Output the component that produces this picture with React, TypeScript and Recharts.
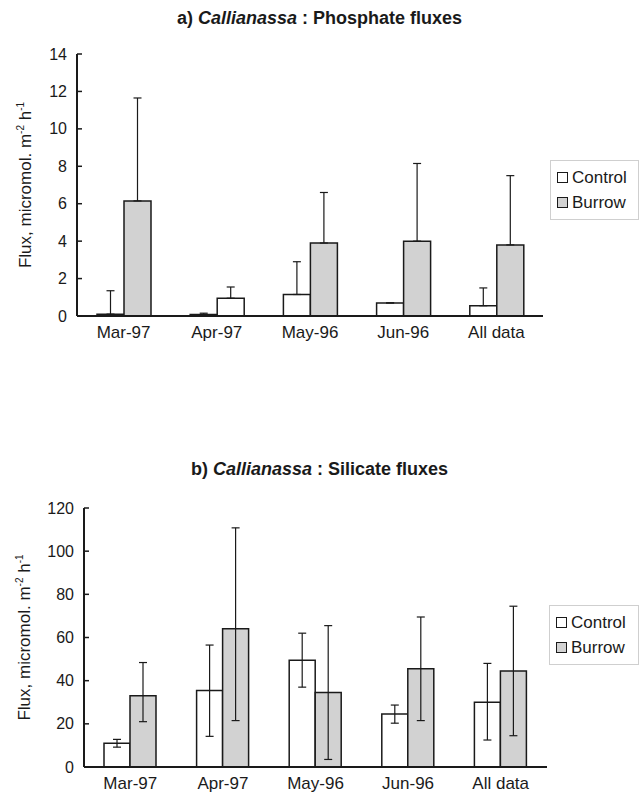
import React from 'react';
import { BarChart, Bar, XAxis, YAxis, ErrorBar, Legend, Cell } from 'recharts';

const months = ['Mar-97', 'Apr-97', 'May-96', 'Jun-96', 'All data'];

// a) phosphate: bar value + upward error only
const phosControl = [0.1, 0.08, 1.15, 0.7, 0.55];
const phosControlUp = [1.25, 0.07, 1.75, 0, 0.95];
const phosBurrow = [6.15, 0.95, 3.9, 4.0, 3.8];
const phosBurrowUp = [5.5, 0.6, 2.7, 4.15, 3.7];
const phosTicks = [0, 2, 4, 6, 8, 10, 12, 14];

// b) silicate: bar value + lower/upper error
const siControl = [11, 35.5, 49.5, 24.5, 30];
const siControlLow = [1.8, 21.3, 12.5, 4.2, 17.5];
const siControlHigh = [1.8, 21, 12.5, 4.2, 18];
const siBurrow = [33, 64, 34.5, 45.5, 44.5];
const siBurrowLow = [12, 42.5, 31, 24, 30];
const siBurrowHigh = [15.4, 46.8, 31, 24, 30];
const siTicks = [0, 20, 40, 60, 80, 100, 120];

const FONT = "Arial, 'Liberation Sans', sans-serif";
const INK = '#1a1a1a';
const GREY = '#d2d2d2';

const phosData = months.map((m, i) => ({
  month: m,
  control: phosControl[i],
  burrow: phosBurrow[i],
  controlErr: [0, phosControlUp[i]],
  burrowErr: [0, phosBurrowUp[i]],
}));

const siData = months.map((m, i) => ({
  month: m,
  control: siControl[i],
  burrow: siBurrow[i],
  controlErr: [siControlLow[i], siControlHigh[i]],
  burrowErr: [siBurrowLow[i], siBurrowHigh[i]],
}));

const YTick = (props: any) => {
  const { x, y, payload } = props;
  return (
    <g>
      <line x1={x + 10} x2={x + 15} y1={y} y2={y} stroke={INK} strokeWidth={1.5} />
      <text x={x} y={y} dy={5.5} textAnchor="end" fontSize={16} fill={INK} fontFamily={FONT}>
        {payload.value}
      </text>
    </g>
  );
};

const YLabel = ({ cx, cy }: { cx: number; cy: number }) => (
  <text
    x={cx}
    y={cy}
    transform={`rotate(-90 ${cx} ${cy})`}
    textAnchor="middle"
    fontSize={17}
    fill={INK}
    fontFamily={FONT}
  >
    Flux, micromol. m
    <tspan dy={-7} fontSize={10}>-2</tspan>
    <tspan dy={7}> h</tspan>
    <tspan dy={-7} fontSize={10}>-1</tspan>
  </text>
);

const LegendBox = () => (
  <div
    style={{
      border: '1px solid #cfcfcf',
      padding: '4px 6px',
      fontFamily: FONT,
      fontSize: 17,
      color: INK,
      lineHeight: '25px',
      boxSizing: 'border-box',
    }}
  >
    {[
      { name: 'Control', fill: '#fff' },
      { name: 'Burrow', fill: GREY },
    ].map((it) => (
      <div key={it.name} style={{ display: 'flex', alignItems: 'center' }}>
        <span
          style={{
            display: 'inline-block',
            width: 9,
            height: 9,
            border: `1.5px solid ${INK}`,
            background: it.fill,
            marginRight: 4,
          }}
        />
        {it.name}
      </div>
    ))}
  </div>
);

const Title = ({ top, tag, rest }: { top: number; tag: string; rest: string }) => (
  <div
    style={{
      position: 'absolute',
      top,
      left: 0,
      width: 639,
      textAlign: 'center',
      fontFamily: FONT,
      fontWeight: 'bold',
      fontSize: 18,
      color: INK,
    }}
  >
    {tag} <i>Callianassa</i> : {rest}
  </div>
);

const xTick = { fill: INK, fontSize: 17, fontFamily: FONT };

export default function App() {
  return (
    <div style={{ position: 'absolute', left: 0, top: 0, width: 639, height: 804, background: '#fff' }}>
      <Title top={8} tag="a)" rest="Phosphate fluxes" />
      <div style={{ position: 'absolute', left: 0, top: 0 }}>
        <BarChart
          width={639}
          height={350}
          data={phosData}
          margin={{ top: 54, right: 96, left: 0, bottom: 4 }}
          barGap={0}
        >
          <XAxis
            dataKey="month"
            height={30}
            tick={xTick}
            tickLine={false}
            tickMargin={4}
            axisLine={{ stroke: INK, strokeWidth: 2 }}
          />
          <YAxis
            width={77}
            domain={[0, 14]}
            ticks={phosTicks}
            interval={0}
            tickSize={0}
            tickMargin={10}
            tickLine={false}
            tick={<YTick />}
            axisLine={{ stroke: INK, strokeWidth: 2 }}
            label={({ viewBox }: any) => <YLabel cx={31} cy={viewBox.y + viewBox.height / 2} />}
          />
          <Legend
            layout="vertical"
            align="center"
            verticalAlign="middle"
            content={<LegendBox />}
            wrapperStyle={{ left: 550, top: 160, width: 89 }}
          />
          <Bar dataKey="control" name="Control" fill="#fff" stroke={INK} strokeWidth={1.5} barSize={27} isAnimationActive={false}>
            <ErrorBar dataKey="controlErr" width={4} stroke={INK} strokeWidth={1.2} direction="y" />
          </Bar>
          <Bar dataKey="burrow" name="Burrow" fill={GREY} stroke={INK} strokeWidth={1.5} barSize={27} isAnimationActive={false}>
            {phosData.map((d) => (
              <Cell key={d.month} fill={d.month === 'Apr-97' ? '#fff' : GREY} />
            ))}
            <ErrorBar dataKey="burrowErr" width={4} stroke={INK} strokeWidth={1.2} direction="y" />
          </Bar>
        </BarChart>
      </div>

      <Title top={459} tag="b)" rest="Silicate fluxes" />
      <div style={{ position: 'absolute', left: 0, top: 450 }}>
        <BarChart
          width={639}
          height={354}
          data={siData}
          margin={{ top: 58, right: 92, left: 0, bottom: 7 }}
          barGap={0}
        >
          <XAxis
            dataKey="month"
            height={30}
            tick={xTick}
            tickLine={false}
            tickMargin={4}
            axisLine={{ stroke: INK, strokeWidth: 2 }}
          />
          <YAxis
            width={84}
            domain={[0, 120]}
            ticks={siTicks}
            interval={0}
            tickSize={0}
            tickMargin={10}
            tickLine={false}
            tick={<YTick />}
            axisLine={{ stroke: INK, strokeWidth: 2 }}
            label={({ viewBox }: any) => <YLabel cx={30} cy={viewBox.y + viewBox.height / 2} />}
          />
          <Legend
            layout="vertical"
            align="center"
            verticalAlign="middle"
            content={<LegendBox />}
            wrapperStyle={{ left: 549, top: 155, width: 90 }}
          />
          <Bar dataKey="control" name="Control" fill="#fff" stroke={INK} strokeWidth={1.5} barSize={26} isAnimationActive={false}>
            <ErrorBar dataKey="controlErr" width={4} stroke={INK} strokeWidth={1.2} direction="y" />
          </Bar>
          <Bar dataKey="burrow" name="Burrow" fill={GREY} stroke={INK} strokeWidth={1.5} barSize={26} isAnimationActive={false}>
            <ErrorBar dataKey="burrowErr" width={4} stroke={INK} strokeWidth={1.2} direction="y" />
          </Bar>
        </BarChart>
      </div>
    </div>
  );
}
